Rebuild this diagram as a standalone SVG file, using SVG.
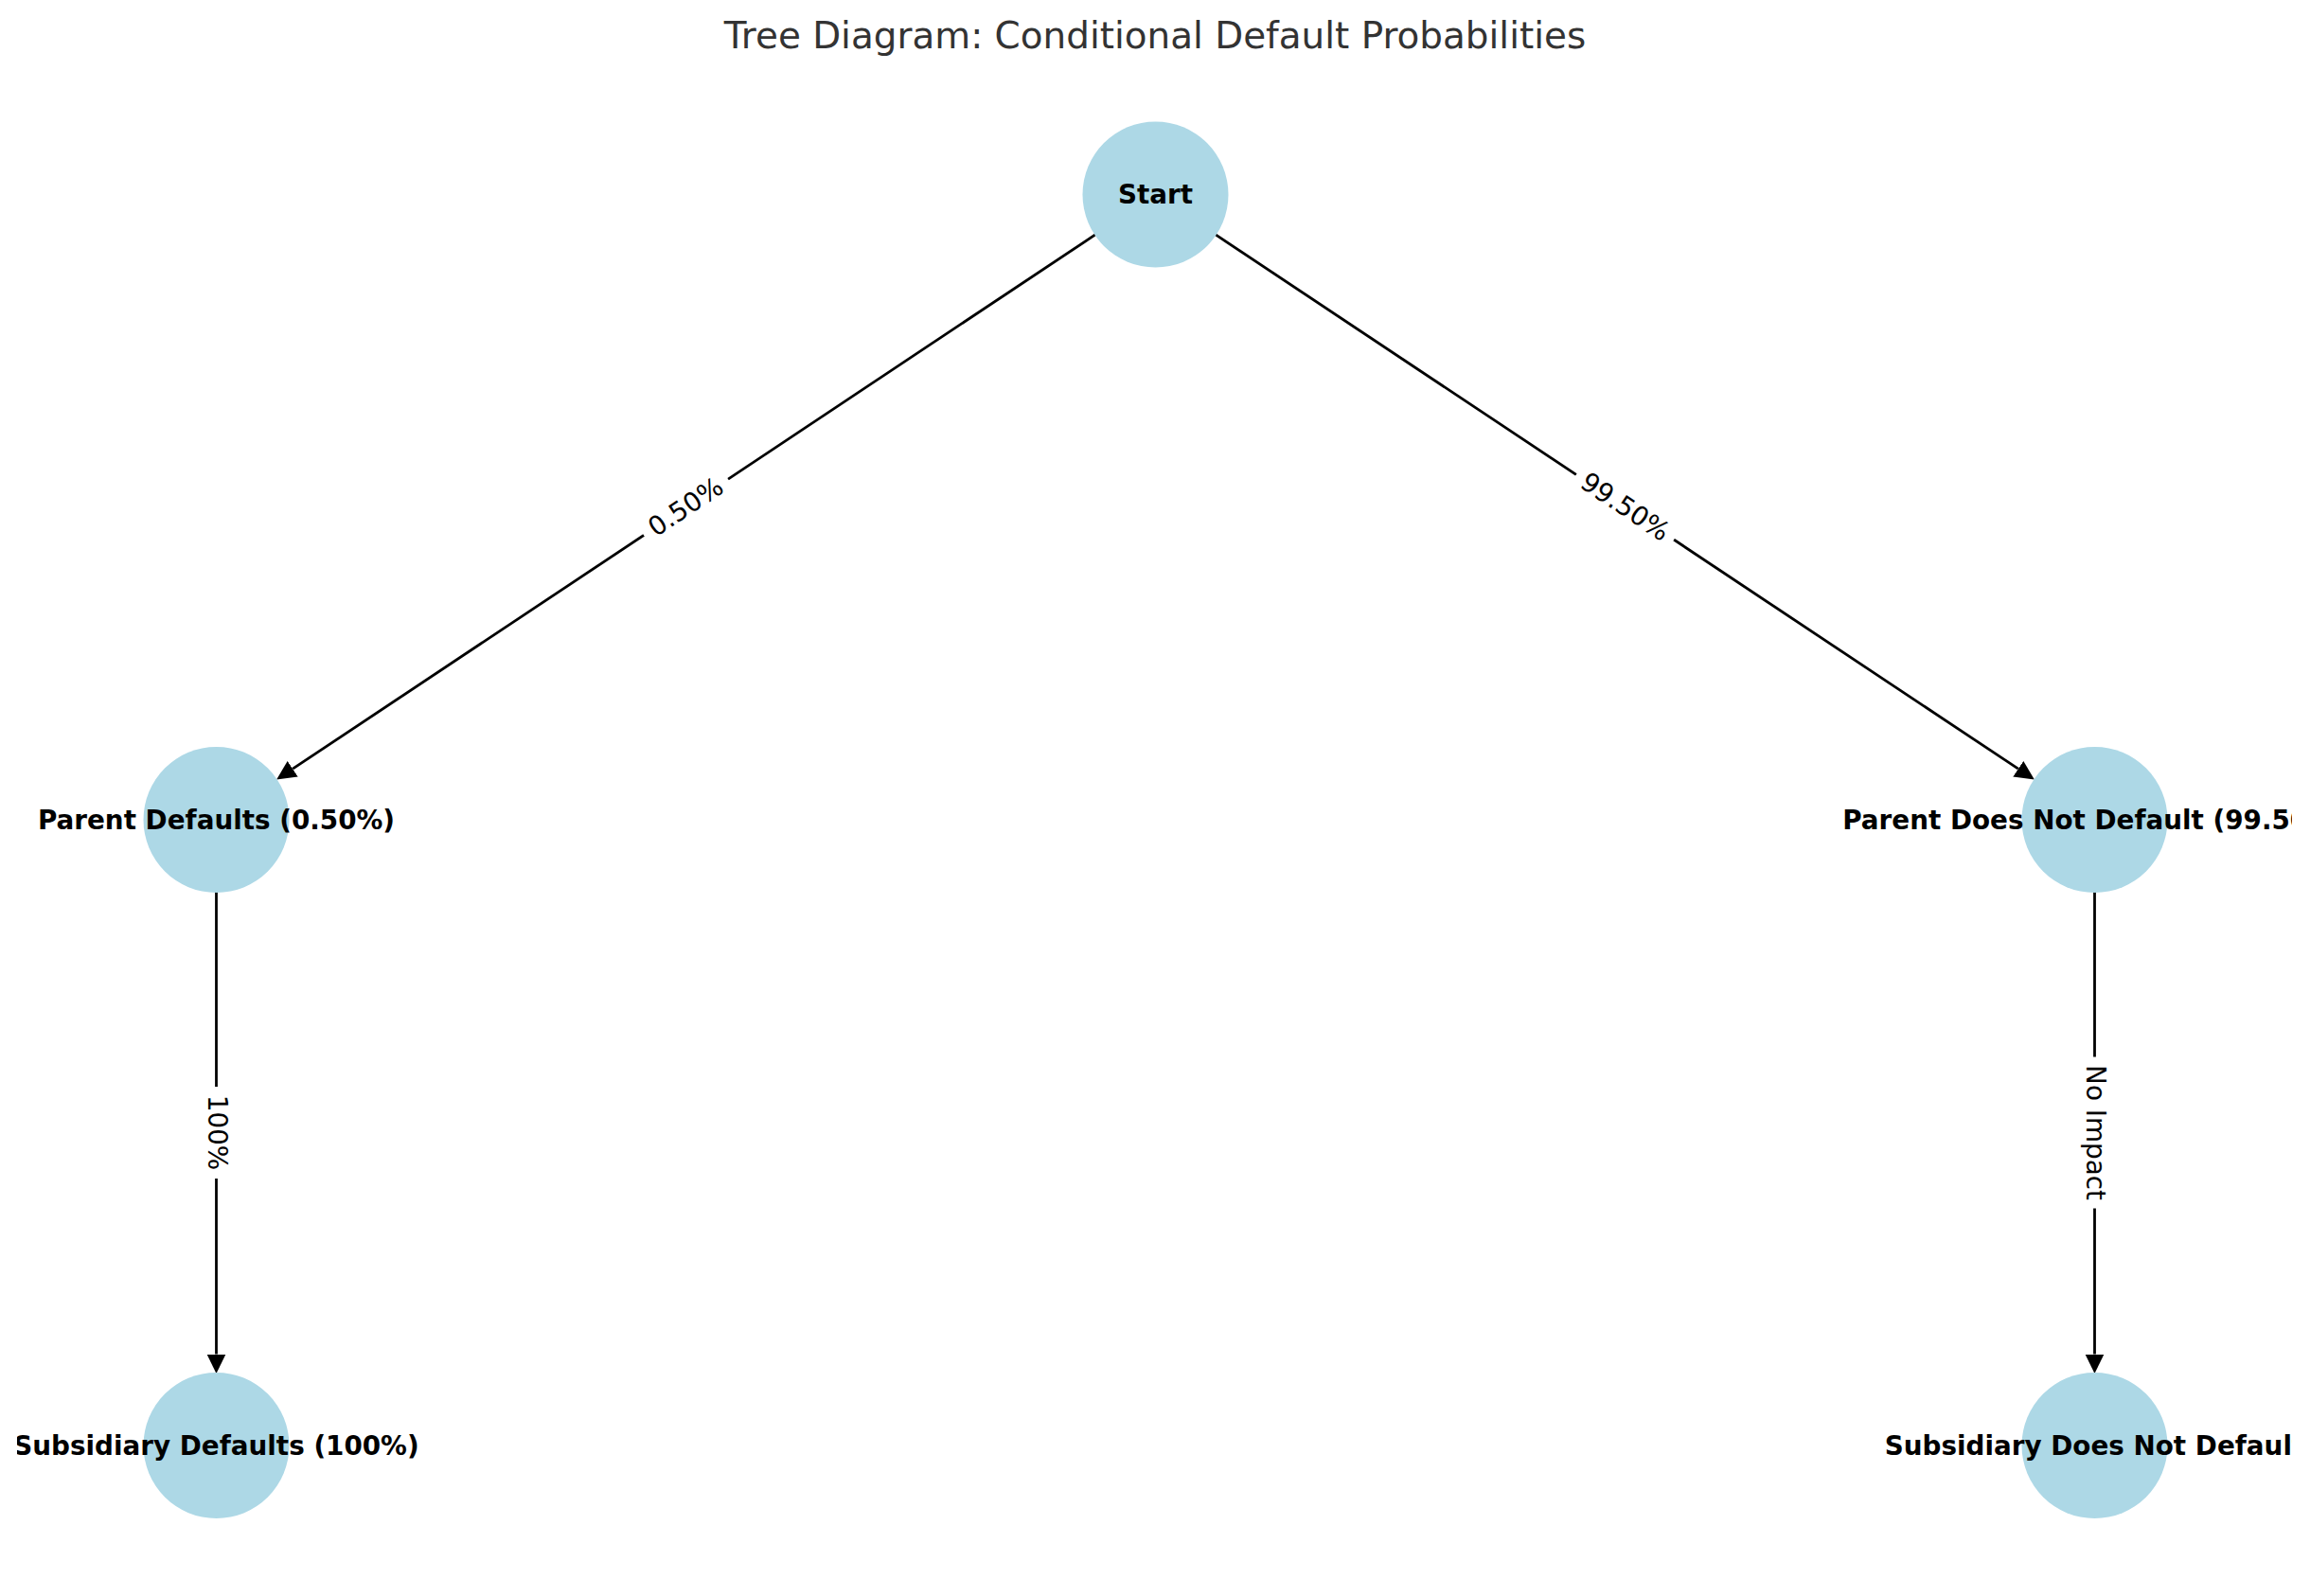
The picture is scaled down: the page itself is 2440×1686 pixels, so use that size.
<svg xmlns="http://www.w3.org/2000/svg" width="2440" height="1686" viewBox="0 0 2440 1686">
  <style>
    .node { fill: #ADD8E6; }
    .nlabel { font-family: "DejaVu Sans", "Liberation Sans", sans-serif; font-weight: bold; font-size: 27.8px; fill: #000; text-anchor: middle; }
    .edge { stroke: #000; stroke-width: 2.8; fill: none; marker-end: url(#arrow); }
    .elabel { font-family: "DejaVu Sans", "Liberation Sans", sans-serif; font-size: 27.8px; fill: #000; text-anchor: middle; }
    .ebox { fill: #fff; stroke: #fff; }
    .title { font-family: "DejaVu Sans", "Liberation Sans", sans-serif; font-size: 38.9px; fill: #333333; text-anchor: middle; }
  </style>
  <defs>
    <marker id="arrow" markerUnits="userSpaceOnUse" markerWidth="22" markerHeight="22" viewBox="0 -11 22 22" refX="0" refY="0" orient="auto">
      <path d="M0,-10 L20.5,0 L0,10 z" fill="#000"/>
    </marker>
    <clipPath id="axclip">
      <rect x="18" y="0" width="2403" height="1686"/>
    </clipPath>
  </defs>
  <rect x="0" y="0" width="2440" height="1686" fill="#fff"/>
  <text class="title" x="1220" y="51">Tree Diagram: Conditional Default Probabilities</text>

  <g id="connectors">
    <line class="edge" x1="1157.3" y1="247.7" x2="309.2" y2="812.2"/>
    <line class="edge" x1="1283.7" y1="247.7" x2="2131.8" y2="812.2"/>
    <line class="edge" x1="228.5" y1="942" x2="228.5" y2="1430.5"/>
    <line class="edge" x1="2212.5" y1="942" x2="2212.5" y2="1430.5"/>

    <g transform="translate(724.5,535.75) rotate(-33.69)">
      <rect class="ebox" x="-53" y="-24" width="106" height="48" rx="8.3"/>
      <text class="elabel" x="0" y="9">0.50%</text>
    </g>
    <g transform="translate(1716.5,535.75) rotate(33.69)">
      <rect class="ebox" x="-61.5" y="-24" width="123" height="48" rx="8.3"/>
      <text class="elabel" x="0" y="9">99.50%</text>
    </g>
    <g transform="translate(228.5,1196.5) rotate(90)">
      <rect class="ebox" x="-48" y="-24" width="96" height="48" rx="8.3"/>
      <text class="elabel" x="0" y="9">100%</text>
    </g>
    <g transform="translate(2212.5,1196.5) rotate(90)">
      <rect class="ebox" x="-79.5" y="-24" width="159" height="48" rx="8.3"/>
      <text class="elabel" x="0" y="9">No Impact</text>
    </g>
  </g>

  <g id="node-start">
    <circle class="node" cx="1220.5" cy="205.5" r="77"/>
    <text class="nlabel" x="1220.5" y="215" clip-path="url(#axclip)">Start</text>
  </g>
  <g id="node-parent-defaults">
    <circle class="node" cx="228.5" cy="866" r="77"/>
    <text class="nlabel" x="228.5" y="875.5" clip-path="url(#axclip)">Parent Defaults (0.50%)</text>
  </g>
  <g id="node-parent-not-default">
    <circle class="node" cx="2212.5" cy="866" r="77"/>
    <text class="nlabel" x="2212.5" y="875.5" clip-path="url(#axclip)">Parent Does Not Default (99.50%)</text>
  </g>
  <g id="node-sub-defaults">
    <circle class="node" cx="228.5" cy="1527" r="77"/>
    <text class="nlabel" x="228.5" y="1536.5" clip-path="url(#axclip)">Subsidiary Defaults (100%)</text>
  </g>
  <g id="node-sub-not-default">
    <circle class="node" cx="2212.5" cy="1527" r="77"/>
    <text class="nlabel" x="2212.5" y="1536.5" clip-path="url(#axclip)">Subsidiary Does Not Default</text>
  </g>
</svg>
